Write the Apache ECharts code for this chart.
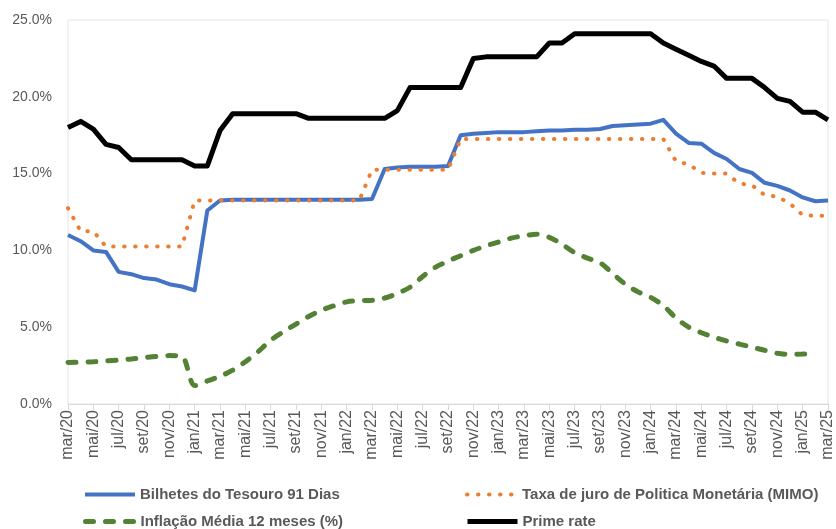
<!DOCTYPE html>
<html>
<head>
<meta charset="utf-8">
<script src="https://cdn.jsdelivr.net/npm/echarts@6/dist/echarts.min.js"></script>
<style>
  html, body { margin: 0; padding: 0; background: #fff; }
  #chart { width: 836px; height: 529px; }
</style>
</head>
<body>
<div id="chart"></div>
<script>
// meses (mar/20 .. mar/25)
var months = [
  'mar/20', 'abr/20', 'mai/20', 'jun/20', 'jul/20', 'ago/20', 'set/20', 'out/20', 'nov/20', 'dez/20',
  'jan/21', 'fev/21', 'mar/21', 'abr/21', 'mai/21', 'jun/21', 'jul/21', 'ago/21', 'set/21', 'out/21', 'nov/21', 'dez/21',
  'jan/22', 'fev/22', 'mar/22', 'abr/22', 'mai/22', 'jun/22', 'jul/22', 'ago/22', 'set/22', 'out/22', 'nov/22', 'dez/22',
  'jan/23', 'fev/23', 'mar/23', 'abr/23', 'mai/23', 'jun/23', 'jul/23', 'ago/23', 'set/23', 'out/23', 'nov/23', 'dez/23',
  'jan/24', 'fev/24', 'mar/24', 'abr/24', 'mai/24', 'jun/24', 'jul/24', 'ago/24', 'set/24', 'out/24', 'nov/24', 'dez/24',
  'jan/25', 'fev/25', 'mar/25'
]

var bilhetes = [
  11.0, 10.6, 10.0, 9.9, 8.6, 8.45, 8.2, 8.1, 7.8, 7.65,
  7.4, 12.6, 13.25, 13.3, 13.3, 13.3, 13.3, 13.3, 13.3, 13.3, 13.3, 13.3,
  13.3, 13.3, 13.35, 15.3, 15.4, 15.45, 15.45, 15.45, 15.5, 17.5, 17.6, 17.65,
  17.7, 17.7, 17.7, 17.75, 17.8, 17.8, 17.85, 17.85, 17.9, 18.1, 18.15, 18.2,
  18.25, 18.5, 17.6, 17.0, 16.95, 16.35, 15.95, 15.3, 15.05, 14.4, 14.2, 13.9,
  13.45, 13.2, 13.25
]

var mimo = [
  12.75, 11.25, 11.25, 10.25, 10.25, 10.25, 10.25, 10.25, 10.25, 10.25,
  13.25, 13.25, 13.25, 13.25, 13.25, 13.25, 13.25, 13.25, 13.25, 13.25, 13.25, 13.25,
  13.25, 13.25, 15.25, 15.25, 15.25, 15.25, 15.25, 15.25, 15.25, 17.25, 17.25, 17.25,
  17.25, 17.25, 17.25, 17.25, 17.25, 17.25, 17.25, 17.25, 17.25, 17.25, 17.25, 17.25,
  17.25, 17.25, 15.8, 15.6, 15.05, 15.0, 15.0, 14.35, 14.25, 13.6, 13.5, 13.05,
  12.3, 12.25, 12.25
]

var inflacao = [
  2.7, 2.72, 2.75, 2.8, 2.86, 2.93, 3.02, 3.1, 3.15, 3.1,
  1.2, 1.5, 1.8, 2.2, 2.75, 3.4, 4.15, 4.7, 5.2, 5.7, 6.1, 6.4,
  6.65, 6.73, 6.75, 6.9, 7.2, 7.6, 8.3, 8.9, 9.3, 9.65, 10.0, 10.3,
  10.55, 10.8, 10.95, 11.05, 10.85, 10.4, 9.85, 9.5, 9.2, 8.5, 7.8, 7.3,
  6.95, 6.4, 5.6, 5.0, 4.64, 4.35, 4.1, 3.9, 3.7, 3.5, 3.3, 3.23,
  3.25, 3.3, null
]

var prime = [
  18.0, 18.4, 17.9, 16.9, 16.7, 15.9, 15.9, 15.9, 15.9, 15.9,
  15.5, 15.5, 17.8, 18.9, 18.9, 18.9, 18.9, 18.9, 18.9, 18.6, 18.6, 18.6,
  18.6, 18.6, 18.6, 18.6, 19.1, 20.6, 20.6, 20.6, 20.6, 20.6, 22.5, 22.6,
  22.6, 22.6, 22.6, 22.6, 23.5, 23.5, 24.1, 24.1, 24.1, 24.1, 24.1, 24.1,
  24.1, 23.5, 23.1, 22.7, 22.3, 22.0, 21.2, 21.2, 21.2, 20.6, 19.9, 19.7,
  19.0, 19.0, 18.5
]

var yTicks = [0, 25, 5] // min, max, intervalo

// estilos das linhas (usados na serie e na legenda)
var styles = {
  bilhetes: { color: '#4472C4', width: 4, join: 'round' },
  mimo: { color: '#ED7D31', width: 4, type: [0.5, 10.5], cap: 'round' },
  inflacao: { color: '#548235', width: 5, type: [8, 12], cap: 'round' },
  prime: { color: '#000000', width: 5, join: 'round' }
}

function legendItem(name, style, left, top) {
  return {
    data: [name],
    left: left,
    top: top,
    itemWidth: 50,
    itemHeight: 14,
    padding: 0,
    itemStyle: { opacity: 0 },
    lineStyle: { width: style.width, type: style.type || 'solid', cap: style.cap || 'butt', color: style.color },
    textStyle: {
      fontFamily: 'Liberation Sans',
      fontSize: 15,
      fontWeight: 'bold',
      color: '#595959'
    }
  }
}

var chart = echarts.init(document.getElementById('chart'))
chart.setOption({
  animation: false,
  textStyle: { fontFamily: 'Liberation Sans' },
  legend: [
    legendItem('Bilhetes do Tesouro 91 Dias', styles.bilhetes, 83, 487),
    legendItem('Taxa de juro de Politica Monetária (MIMO)', styles.mimo, 465, 487),
    legendItem('Inflação Média 12 meses (%)', styles.inflacao, 83, 514),
    legendItem('Prime rate', styles.prime, 465, 514)
  ],
  grid: {
    left: 68,
    right: 7,
    top: 20,
    bottom: 125,
    show: true,
    borderColor: '#e3e3e3',
    borderWidth: 1
  },
  xAxis: {
    type: 'category',
    boundaryGap: false,
    data: months,
    axisLine: { lineStyle: { color: '#d9d9d9', width: 1 } },
    axisTick: { interval: 1, length: 6, lineStyle: { color: '#d9d9d9' } },
    axisLabel: {
      interval: 1,
      rotate: 90,
      margin: 6,
      fontSize: 16,
      color: '#595959'
    }
  },
  yAxis: {
    type: 'value',
    min: yTicks[0],
    max: yTicks[1],
    interval: yTicks[2],
    axisLine: { show: false },
    axisTick: { show: false },
    splitLine: { show: false },
    axisLabel: {
      margin: 16,
      fontSize: 14,
      color: '#595959',
      formatter: function (v) { return v.toFixed(1) + '%' }
    }
  },
  series: [
    {
      name: 'Bilhetes do Tesouro 91 Dias',
      type: 'line',
      symbol: 'none',
      data: bilhetes,
      itemStyle: { color: styles.bilhetes.color },
      lineStyle: styles.bilhetes
    },
    {
      name: 'Taxa de juro de Politica Monetária (MIMO)',
      type: 'line',
      symbol: 'none',
      data: mimo,
      itemStyle: { color: styles.mimo.color },
      lineStyle: styles.mimo
    },
    {
      name: 'Inflação Média 12 meses (%)',
      type: 'line',
      symbol: 'none',
      smooth: 0.3,
      data: inflacao,
      itemStyle: { color: styles.inflacao.color },
      lineStyle: styles.inflacao
    },
    {
      name: 'Prime rate',
      type: 'line',
      symbol: 'none',
      data: prime,
      itemStyle: { color: styles.prime.color },
      lineStyle: styles.prime
    }
  ]
})
</script>
</body>
</html>
